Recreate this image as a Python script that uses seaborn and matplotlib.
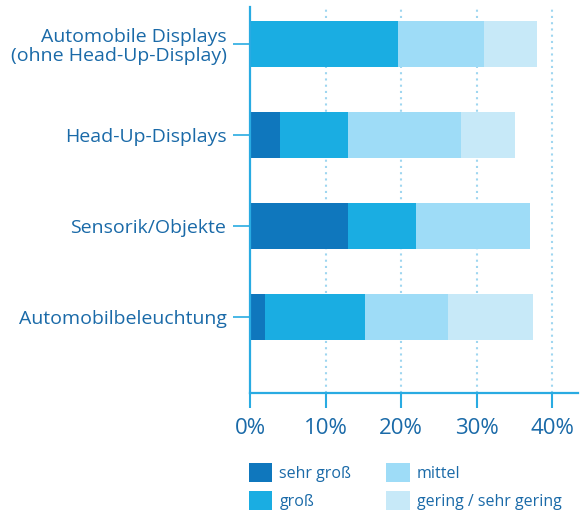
import pandas as pd
import seaborn as sns
import matplotlib.pyplot as plt
from matplotlib.patches import Patch

kategorien = ['Automobile Displays\n(ohne Head-Up-Display)', 'Head-Up-Displays',
              'Sensorik/Objekte', 'Automobilbeleuchtung']
sehr_gross = [0.0, 4.0, 13.0, 2.0]
gross = [19.6, 9.0, 9.0, 13.2]
mittel = [11.4, 14.9, 15.1, 11.0]
gering = [7.0, 7.1, 0.0, 11.2]
stufen = ['sehr groß', 'groß', 'mittel', 'gering / sehr gering']
farben = ['#0f77bd', '#1aade2', '#9edcf7', '#c7e9f8']
x_ticks = [0, 10, 20, 30, 40]

blau_text = '#1a6aa8'
blau_achse = '#29abe2'

sns.set_style('white')
plt.rcParams['font.family'] = ['Open Sans', 'DejaVu Sans']

df = pd.DataFrame({'Kategorie': kategorien, 'sehr groß': sehr_gross, 'groß': gross,
                   'mittel': mittel, 'gering / sehr gering': gering})
# kumulierte Summen für gestapelte Balken
kum = df[stufen].cumsum(axis=1)
kum['Kategorie'] = df['Kategorie']

fig = plt.figure(figsize=(5.85, 5.22), dpi=100)
ax = fig.add_axes([250 / 585, 1 - 393 / 522, (578 - 250) / 585, (393 - 7) / 522])

# Gitterlinien (gepunktet) unter den Balken
for t in x_ticks[1:]:
    ax.axvline(t, color='#9fd6f0', lw=1.5, ls=(0, (1, 2)), zorder=0)

for stufe, farbe in reversed(list(zip(stufen, farben))):
    sns.barplot(data=kum, x=stufe, y='Kategorie', color=farbe, width=0.505,
                orient='h', errorbar=None, linewidth=0, saturation=1, ax=ax, zorder=2)

ax.set_xlim(0, 43.4)
ax.set_ylim(3.835, -0.407)
ax.set_xlabel('')
ax.set_ylabel('')
ax.set_xticks(x_ticks)
ax.set_xticklabels([f'{t}%' for t in x_ticks])

for s in ['top', 'right']:
    ax.spines[s].set_visible(False)
for s in ['left', 'bottom']:
    ax.spines[s].set_color(blau_achse)
    ax.spines[s].set_linewidth(1.6)

ax.tick_params(axis='x', length=11, width=1.5, color=blau_achse, labelcolor=blau_text,
               labelsize=16, pad=7, direction='out', bottom=True)
ax.tick_params(axis='y', length=12, width=1.2, color=blau_achse, labelcolor=blau_text,
               labelsize=14, pad=5, direction='out', left=True)
for lab in ax.get_yticklabels():
    lab.set_linespacing(1.05)

handles = [Patch(facecolor=f, edgecolor='none') for f in farben]
fig.legend(handles, stufen, loc='upper left', bbox_to_anchor=(249 / 585, 1 - 463 / 522),
           ncol=2, frameon=False, fontsize=11.5, labelcolor=blau_text, handlelength=1.45,
           handleheight=1.45, handletextpad=0.45, columnspacing=2.2, labelspacing=0.55,
           borderpad=0, borderaxespad=0)

fig.savefig('out.png', dpi=100)
